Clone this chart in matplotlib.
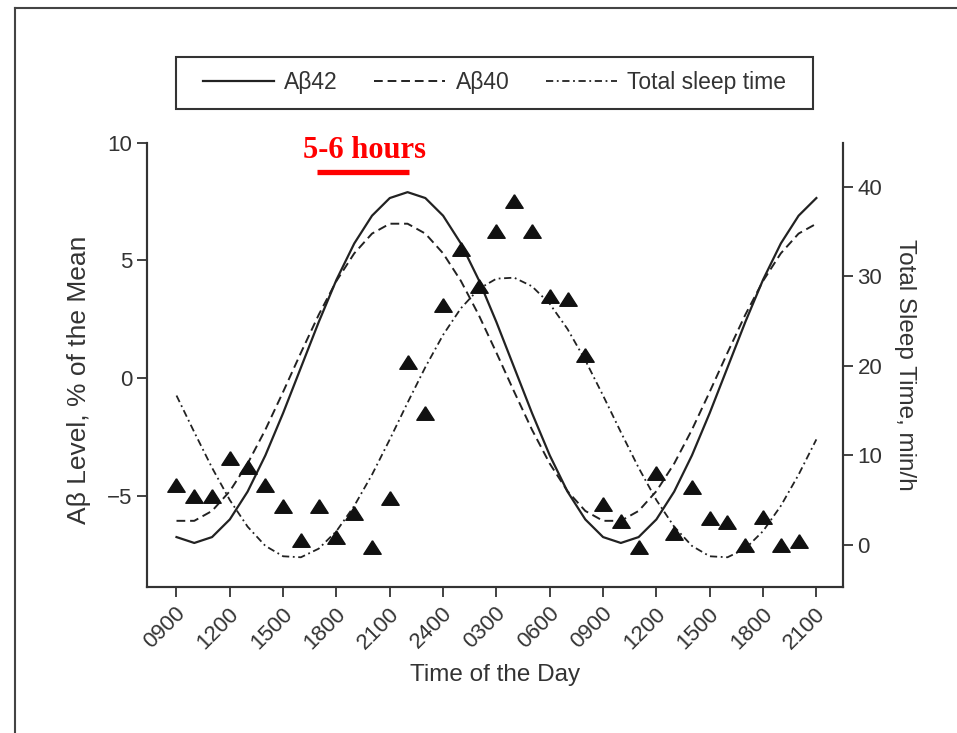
import matplotlib
matplotlib.use("Agg")
import matplotlib.pyplot as plt
from matplotlib import font_manager
from matplotlib.lines import Line2D
from matplotlib.patches import Rectangle
from matplotlib.transforms import ScaledTranslation

# hours after 0900 on day 1
hours = list(range(37))
tick_hours = list(range(0, 37, 3))
tick_labels = ["0900", "1200", "1500", "1800", "2100", "2400", "0300",
               "0600", "0900", "1200", "1500", "1800", "2100"]

# cosinor fits (left axis, % of mean)
ab42 = [-6.75, -7.0, -6.75, -6.0, -4.82, -3.28, -1.48, 0.45, 2.38, 4.18,
        5.72, 6.9, 7.65, 7.9, 7.65, 6.9, 5.72, 4.18, 2.38, 0.45, -1.48,
        -3.28, -4.82, -6.0, -6.75, -7.0, -6.75, -6.0, -4.82, -3.28, -1.48,
        0.45, 2.38, 4.18, 5.72, 6.9, 7.65]
ab40 = [-6.06, -6.06, -5.64, -4.8, -3.63, -2.19, -0.58, 1.08, 2.69, 4.13,
        5.3, 6.14, 6.56, 6.56, 6.14, 5.3, 4.13, 2.69, 1.08, -0.58, -2.19,
        -3.63, -4.8, -5.64, -6.06, -6.06, -5.64, -4.8, -3.63, -2.19, -0.58,
        1.08, 2.69, 4.13, 5.3, 6.14, 6.56]
# sleep fit (right axis, min/h)
sleep_fit = [16.65, 12.56, 8.58, 4.97, 2.0, -0.15, -1.31, -1.42, -0.46, 1.5,
             4.32, 7.81, 11.75, 15.85, 19.82, 23.43, 26.4, 28.55, 29.71,
             29.82, 28.86, 26.9, 24.08, 20.59, 16.65, 12.56, 8.58, 4.97, 2.0,
             -0.15, -1.31, -1.42, -0.46, 1.5, 4.32, 7.81, 11.75]
# hourly total sleep time (triangles)
sleep_hours = list(range(36))
sleep_obs = [6.6, 5.4, 5.4, 9.7, 8.7, 6.6, 4.3, 0.5, 4.3, 0.9, 3.5, -0.3,
             5.2, 20.4, 14.7, 26.8, 33.0, 28.9, 35.0, 38.4, 35.0, 27.8, 27.4,
             21.2, 4.5, 2.6, -0.3, 8.0, 1.3, 6.4, 3.0, 2.5, 0.0, 3.1, 0.0, 0.4]


def pick(fams):
    for f in fams:
        try:
            font_manager.findfont(f, fallback_to_default=False)
            return f
        except ValueError:
            pass
    return "DejaVu Sans"


narrow = pick(["Liberation Sans Narrow", "Liberation Sans"])
plt.rcParams["font.family"] = [narrow, "DejaVu Sans"]

ink = "#222222"
txt = "#333333"
W, H = 957, 733

fig = plt.figure(figsize=(9.57, 7.33), dpi=100)
ax = fig.add_axes([0.1536, 0.1992, 0.7273, 0.6061])
ax2 = ax.twinx()

l42, = ax.plot(hours, ab42, color=ink, lw=1.6, ls="-", label="Aβ42")
l40, = ax.plot(hours, ab40, color=ink, lw=1.4, ls=(0, (4.5, 2.5)), label="Aβ40")
lsl, = ax2.plot(hours, sleep_fit, color=ink, lw=1.3, ls=(0, (4, 2, 1, 2)),
                label="Total sleep time")
tri = [(0, 0.78), (-1, -0.78), (1, -0.78), (0, 0.78)]
ax2.plot(sleep_hours, sleep_obs, ls="none", marker=tri, ms=12.5,
         color="#111111", mec="#111111")

ax.set_xlim(-1.66, 37.5)
ax.set_ylim(-8.87, 10)
ax2.set_ylim(-4.74, 44.9)
ax.set_yticks([-5, 0, 5, 10])
ax.set_yticklabels(["\u22125", "0", "5", "10"])
ax2.set_yticks([0, 10, 20, 30, 40])
ax.set_xticks(tick_hours)
ax.set_xticklabels(tick_labels, rotation=45, ha="right", va="center",
                   rotation_mode="anchor")

for a in (ax, ax2):
    a.spines["top"].set_visible(False)
    for s in ("left", "right", "bottom"):
        a.spines[s].set_color(txt)
        a.spines[s].set_linewidth(1.5)
    a.tick_params(colors=txt, labelcolor=txt, labelsize=16, length=7,
                  width=1.3)
ax.tick_params(axis="x", pad=10)
shift = ScaledTranslation(6 / 100, 0, fig.dpi_scale_trans)
for lbl in ax.get_xticklabels():
    lbl.set_transform(lbl.get_transform() + shift)

ax.set_xlabel("Time of the Day", fontsize=17.5, color=txt, labelpad=8)
ax.set_ylabel("Aβ Level, % of the Mean", fontsize=19, color=txt)
ax.yaxis.set_label_coords(-0.08, 0.466)
ax2.set_ylabel("Total Sleep Time, min/h", fontsize=17.5, color=txt,
               rotation=270, labelpad=24)

# red annotation
ax.plot([7.9, 13.1], [8.74, 8.74], color="#ff0000", lw=3.8,
        solid_capstyle="butt", clip_on=False)
ax.text(10.6, 9.68, "5-6 hours", color="#ff0000", fontsize=22,
        fontweight="bold", family=["Liberation Serif", "DejaVu Serif"],
        ha="center", va="center")

leg = fig.legend(handles=[l42, l40, lsl], loc="center",
                 bbox_to_anchor=(0.5167, 0.8868), ncol=3, fontsize=16.5,
                 frameon=False, handlelength=3.1,
                 handletextpad=0.45, columnspacing=1.6)
for t in leg.get_texts():
    t.set_color(txt)
fig.add_artist(Rectangle((176 / W, 1 - 109 / H), 637 / W, 52 / H,
                         transform=fig.transFigure, fill=False,
                         edgecolor=txt, lw=1.5))

# page frame (top and left edges)
fig.add_artist(Line2D([15 / W, 1], [1 - 8 / H, 1 - 8 / H],
                      transform=fig.transFigure, color="#444444", lw=1.5))
fig.add_artist(Line2D([15 / W, 15 / W], [0, 1 - 8 / H],
                      transform=fig.transFigure, color="#444444", lw=1.5))

fig.savefig("out.png", dpi=100)
